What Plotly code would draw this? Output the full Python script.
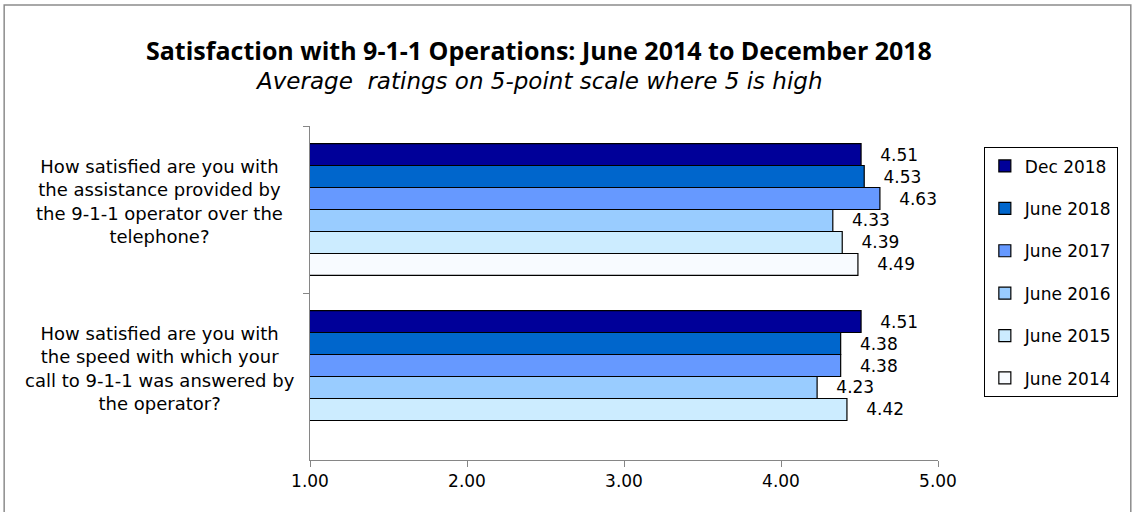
import plotly.graph_objects as go

questions = [
    "How satisfied are you with<br>the assistance provided by<br>the 9-1-1 operator over the<br>telephone?",
    "How satisfied are you with<br>the speed with which your<br>call to 9-1-1 was answered by<br>the operator?",
]
q_keys = ["Q1", "Q2"]
series_names = ["Dec 2018", "June 2018", "June 2017", "June 2016", "June 2015", "June 2014"]
dec_2018 = [4.51, 4.51]
june_2018 = [4.53, 4.38]
june_2017 = [4.63, 4.38]
june_2016 = [4.33, 4.23]
june_2015 = [4.39, 4.42]
june_2014 = [4.49, None]
series_values = [dec_2018, june_2018, june_2017, june_2016, june_2015, june_2014]
colors = ["#000099", "#0066CC", "#6699FF", "#99CCFF", "#CCECFF", "#F8FBFF"]
x_ticks = [1, 2, 3, 4, 5]

FONT = "DejaVu Sans"
fig = go.Figure()
for i, (name, vals) in enumerate(zip(series_names, series_values)):
    fig.add_trace(go.Bar(
        y=q_keys, x=vals, name=name, orientation="h",
        marker=dict(color=colors[i], line=dict(color="#000000", width=1.2)),
        text=[("   %.2f" % v) if v is not None else "" for v in vals],
        textposition="outside", textfont=dict(family=FONT, size=17, color="#000"),
        legendgroup=name, cliponaxis=False,
    ))

fig.update_layout(
    width=1135, height=512,
    margin=dict(l=310, r=197, t=126, b=52, autoexpand=False),
    paper_bgcolor="white", plot_bgcolor="white",
    barmode="group", bargap=0.21, bargroupgap=0,
    font=dict(family=FONT, size=16, color="#000"),
    showlegend=True,
    legend=dict(x=1.073, y=0.936, xanchor="left", yanchor="top",
                bordercolor="#000", borderwidth=1, bgcolor="white",
                font=dict(family=FONT, size=17), tracegroupgap=17.3,
                itemwidth=30),
    xaxis=dict(range=[1, 5], tickvals=x_ticks, tickformat=".2f", automargin=False,
               showgrid=False, zeroline=False, showline=True, linecolor="#868686",
               ticks="outside", ticklen=6, tickcolor="#868686",
               tickfont=dict(family=FONT, size=17)),
    yaxis=dict(autorange="reversed", showgrid=False, zeroline=False, automargin=False,
               showline=True, linecolor="#868686", ticks="outside", ticklen=6,
               tickcolor="#868686", tickson="boundaries", showticklabels=False),
)

for key, q in zip(q_keys, questions):
    fig.add_annotation(x=-0.239, xref="paper", y=key, yref="y", yshift=8, text=q,
                       showarrow=False, xanchor="center", yanchor="middle",
                       align="center", font=dict(family=FONT, size=18))

fig.add_annotation(x=0.365, xref="paper", y=1.228, yref="paper",
                   text="<b>Satisfaction with 9-1-1 Operations: June 2014 to December 2018</b>",
                   showarrow=False, xanchor="center", yanchor="middle",
                   font=dict(family="Open Sans", size=25))
fig.add_annotation(x=0.365, xref="paper", y=1.136, yref="paper",
                   text="<i>Average&nbsp; ratings on 5-point scale where 5 is high</i>",
                   showarrow=False, xanchor="center", yanchor="middle",
                   font=dict(family=FONT, size=23))

fig.add_shape(type="rect", xref="paper", yref="paper",
              x0=-0.487, x1=1.307, y0=-0.2, y1=1.362,
              line=dict(color="#8C8C8C", width=1.5), layer="below")

fig.write_html("out.html", config={"displayModeBar": False},
               post_script="document.body.style.margin='0px';")
